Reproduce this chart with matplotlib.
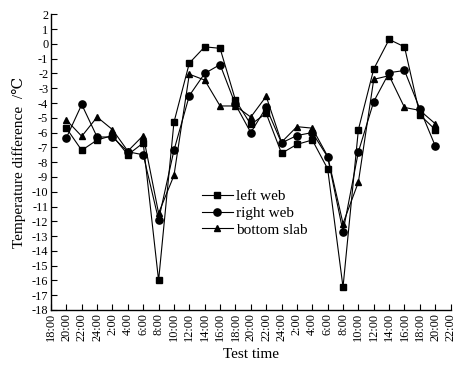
import matplotlib.pyplot as plt

# === DATA ===

time_labels = ['18:00', '20:00', '22:00', '24:00', '2:00', '4:00', '6:00', '8:00',
               '10:00', '12:00', '14:00', '16:00', '18:00', '20:00', '22:00', '24:00',
               '2:00', '4:00', '6:00', '8:00', '10:00', '12:00', '14:00', '16:00',
               '18:00', '20:00', '22:00']

# measurements run from the 2nd tick (20:00) to the 26th (20:00)
left_web = [-5.7, -7.2, -6.5, -6.2, -7.5, -6.7, -16.0, -5.3, -1.3, -0.2, -0.3, -3.8,
            -5.45, -4.7, -7.4, -6.8, -6.5, -8.45, -16.45, -5.8, -1.7, 0.3, -0.2, -4.8, -5.8]
right_web = [-6.35, -4.1, -6.3, -6.3, -7.3, -7.5, -11.9, -7.2, -3.5, -2.0, -1.4, -4.1,
             -6.0, -4.3, -6.7, -6.2, -6.0, -7.65, -12.7, -7.3, -3.9, -1.95, -1.8, -4.4, -6.9]
bottom_slab = [-5.15, -6.25, -4.95, -5.8, -7.25, -6.2, -11.45, -8.9, -2.05, -2.45, -4.2, -4.2,
               -4.95, -3.55, -6.65, -5.6, -5.7, -7.6, -12.15, -9.35, -2.4, -2.15, -4.3, -4.5, -5.4]

series = [('left web', left_web, 's'),
          ('right web', right_web, 'o'),
          ('bottom slab', bottom_slab, '^')]

# === PLOT ===

plt.rcParams['font.family'] = ['Liberation Serif', 'DejaVu Serif']
plt.rcParams['axes.unicode_minus'] = False

fig = plt.figure(figsize=(4.53, 3.65), dpi=100)
ax = fig.add_axes([0.1126, 0.1507, 0.8821, 0.8101])

x = list(range(1, 1 + len(left_web)))
for name, vals, mk in series:
    ax.plot(x, vals, color='black', linewidth=0.8, marker=mk,
            markersize=5 if mk != 'o' else 5.2, label=name)

ax.set_xlim(0, len(time_labels) - 1)
ax.set_ylim(-18, 2)
ax.set_xticks(range(len(time_labels)))
ax.set_xticklabels(time_labels, rotation=90, fontsize=8.8)
ax.set_yticks(range(-18, 3))
ax.tick_params(axis='y', labelsize=8.8)
ax.tick_params(direction='in', length=4, width=0.8, pad=2)

for side in ['top', 'right']:
    ax.spines[side].set_visible(False)
for side in ['left', 'bottom']:
    ax.spines[side].set_linewidth(1.0)

ax.set_xlabel('Test time', fontsize=11, labelpad=5)
ax.set_ylabel('Temperature difference  /\u2103', fontsize=11, labelpad=4)

ax.legend(loc='center left', bbox_to_anchor=(0.378, 0.328), frameon=False,
          fontsize=11, borderpad=0, borderaxespad=0, handlelength=2.0,
          handletextpad=0.2, labelspacing=0.2)

fig.savefig('out.png', dpi=100)
